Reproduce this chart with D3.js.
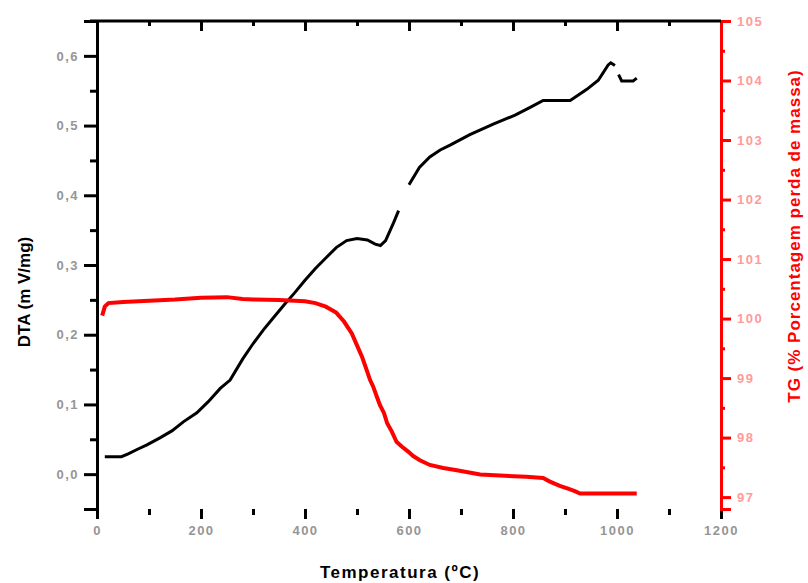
<!DOCTYPE html>
<html>
<head>
<meta charset="utf-8">
<script src="https://cdn.jsdelivr.net/npm/d3@7"></script>
<style>
  html, body { margin: 0; padding: 0; background: #fff; }
  svg { display: block; }
  text { font-family: "Liberation Sans", Arial, sans-serif; }
</style>
</head>
<body>
<svg id="chart" width="808" height="583"></svg>
<script>
// DTA curve: temperature (°C) and signal (mV/mg); null marks a break in the trace
const dtaTemp  = [15, 47, 60, 76, 96, 121, 144, 166, 192, 214, 237, 256, 280, 300, 320, 340, 360, 380, 400, 420, 440, 460, 480, 500, 520, 535, 545, 555, 570, 580, 586, 600, 620, 640, 660, 679, 717, 762, 804, 833, 858, 910, 942, 964, 983, 988, 996, 999, 1003, 1009, 1031, 1038];
const dtaValue = [0.025, 0.025, 0.029, 0.035, 0.042, 0.052, 0.062, 0.075, 0.088, 0.104, 0.123, 0.135, 0.165, 0.187, 0.207, 0.225, 0.243, 0.26, 0.278, 0.295, 0.31, 0.325, 0.335, 0.338, 0.336, 0.33, 0.328, 0.335, 0.36, 0.378, null, 0.415, 0.44, 0.455, 0.465, 0.472, 0.487, 0.502, 0.515, 0.526, 0.536, 0.536, 0.552, 0.565, 0.587, 0.59, 0.586, null, 0.573, 0.564, 0.564, 0.568];

// TG curve: temperature (°C) and remaining mass (%)
const tgTemp  = [10, 15, 22, 50, 100, 150, 200, 250, 280, 300, 350, 400, 420, 440, 460, 475, 490, 500, 510, 518, 525, 531, 538, 544, 552, 558, 567, 576, 586, 599, 608, 621, 640, 666, 692, 737, 826, 858, 871, 890, 903, 919, 929, 1038];
const tgValue = [100.05, 100.2, 100.26, 100.28, 100.3, 100.32, 100.35, 100.36, 100.33, 100.32, 100.31, 100.29, 100.26, 100.2, 100.1, 99.95, 99.75, 99.55, 99.35, 99.15, 98.97, 98.86, 98.69, 98.55, 98.41, 98.24, 98.1, 97.93, 97.85, 97.76, 97.69, 97.62, 97.54, 97.49, 97.45, 97.38, 97.34, 97.32, 97.26, 97.19, 97.15, 97.1, 97.06, 97.06];

// Axis ticks
const xMajorTicks = [0, 200, 400, 600, 800, 1000, 1200];
const xMinorTicks = [100, 300, 500, 700, 900, 1100];
const dtaMajorTicks = [0, 0.1, 0.2, 0.3, 0.4, 0.5, 0.6];
const dtaMinorTicks = [-0.05, 0.05, 0.15, 0.25, 0.35, 0.45, 0.55, 0.65];
const tgMajorTicks = [97, 98, 99, 100, 101, 102, 103, 104, 105];
const tgMinorTicks = [97.5, 98.5, 99.5, 100.5, 101.5, 102.5, 103.5, 104.5];

const svg = d3.select("#chart");
const plotL = 97, plotR = 721, plotT = 21, plotB = 509;

const x = d3.scaleLinear().domain([0, 1200]).range([plotL, plotR]);
const yL = d3.scaleLinear().domain([-0.05, 0.65]).range([plotB, plotT]);
const yR = d3.scaleLinear().domain([96.8, 105]).range([plotB, plotT]);

const fmtComma = d => d3.format(".1f")(d).replace(".", ",");

// Bottom axis (ticks outward)
const gx = svg.append("g").attr("transform", `translate(0,${plotB})`);
gx.call(d3.axisBottom(x).tickValues(xMajorTicks).tickSize(10).tickPadding(7).tickFormat(d3.format("d")));
gx.append("g").call(d3.axisBottom(x).tickValues(xMinorTicks).tickSize(6).tickFormat(""));

// Top axis (ticks inward, no labels)
const gt = svg.append("g").attr("transform", `translate(0,${plotT})`);
gt.call(d3.axisBottom(x).tickValues(xMajorTicks).tickSize(10).tickFormat(""));
gt.append("g").call(d3.axisBottom(x).tickValues(xMinorTicks).tickSize(5).tickFormat(""));

// Left DTA axis
const gl = svg.append("g").attr("transform", `translate(${plotL},0)`);
gl.call(d3.axisLeft(yL).tickValues(dtaMajorTicks).tickSize(13).tickPadding(5).tickFormat(fmtComma));
gl.append("g").call(d3.axisLeft(yL).tickValues(dtaMinorTicks).tickSize(7).tickFormat(""));

// Right TG axis (red)
const gr = svg.append("g").attr("transform", `translate(${plotR},0)`);
gr.call(d3.axisRight(yR).tickValues(tgMajorTicks).tickSize(10).tickPadding(6).tickFormat(d3.format("d")));
gr.append("g").call(d3.axisRight(yR).tickValues(tgMinorTicks).tickSize(4).tickFormat(""));

// Axis styling
svg.selectAll(".domain").attr("stroke-width", 3);
svg.selectAll(".tick line").attr("stroke-width", 3);
svg.selectAll(".tick text")
  .attr("font-size", 13).attr("font-weight", "bold").attr("letter-spacing", "1.5px");
gx.selectAll("text").attr("fill", "#959595");
gl.selectAll("text").attr("fill", "#959595");
gr.selectAll(".domain, .tick line").attr("stroke", "#ff0000");
gr.selectAll("text").attr("fill", "#ff9a9a");
gt.selectAll(".domain").remove();
gx.selectAll("g .domain").remove();
gl.selectAll("g g .domain").remove();
gr.selectAll("g g .domain").remove();

// Top frame line
svg.append("line").attr("x1", plotL - 7).attr("x2", plotR).attr("y1", plotT).attr("y2", plotT)
  .attr("stroke", "#000").attr("stroke-width", 3);

// DTA trace
const dtaPts = dtaTemp.map((t, i) => [t, dtaValue[i]]);
svg.append("path")
  .datum(dtaPts)
  .attr("fill", "none")
  .attr("stroke", "#000")
  .attr("stroke-width", 3)
  .attr("d", d3.line().defined(d => d[1] !== null).x(d => x(d[0])).y(d => yL(d[1])));

// TG trace
const tgPts = tgTemp.map((t, i) => [t, tgValue[i]]);
svg.append("path")
  .datum(tgPts)
  .attr("fill", "none")
  .attr("stroke", "#ff0000")
  .attr("stroke-width", 4)
  .attr("d", d3.line().x(d => x(d[0])).y(d => yR(d[1])));

// Axis titles
svg.append("text")
  .attr("transform", `translate(30,292) rotate(-90)`)
  .attr("text-anchor", "middle")
  .attr("font-size", 17).attr("font-weight", "bold").attr("fill", "#000")
  .text("DTA  (m V/mg)");

svg.append("text")
  .attr("x", 400).attr("y", 578)
  .attr("text-anchor", "middle")
  .attr("font-size", 17).attr("font-weight", "bold").attr("fill", "#000")
  .attr("letter-spacing", "1.5px")
  .text("Temperatura (ºC)");

svg.append("text")
  .attr("transform", `translate(800,236) rotate(-90)`)
  .attr("text-anchor", "middle")
  .attr("font-size", 17).attr("font-weight", "bold").attr("fill", "#ff0000")
  .attr("letter-spacing", "1px")
  .text("TG (% Porcentagem perda de massa)");
</script>
</body>
</html>
